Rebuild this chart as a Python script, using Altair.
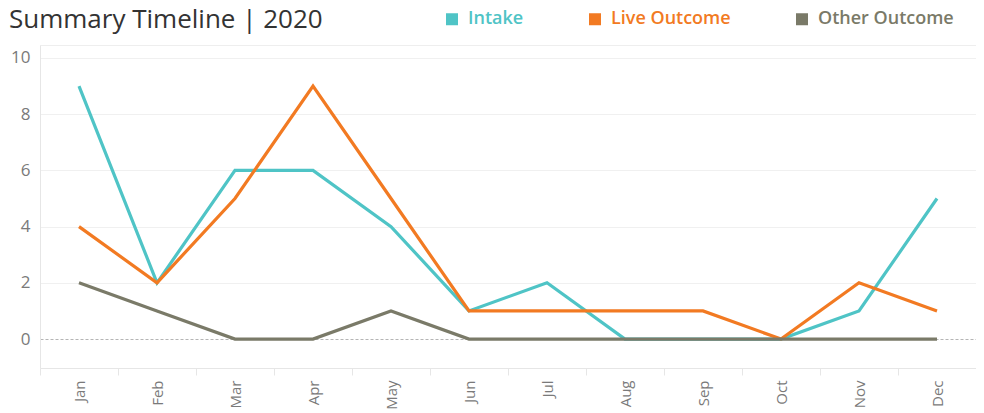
import altair as alt
import pandas as pd

months = ["Jan", "Feb", "Mar", "Apr", "May", "Jun", "Jul", "Aug", "Sep", "Oct", "Nov", "Dec"]
intake = [9, 2, 6, 6, 4, 1, 2, 0, 0, 0, 1, 5]
live_outcome = [4, 2, 5, 9, 5, 1, 1, 1, 1, 0, 2, 1]
other_outcome = [2, 1, 0, 0, 1, 0, 0, 0, 0, 0, 0, 0]

series = ["Intake", "Live Outcome", "Other Outcome"]
colors = ["#4fc4c6", "#f27a22", "#7a7a68"]

rows = []
for name, vals in zip(series, [intake, live_outcome, other_outcome]):
    for m, v in zip(months, vals):
        rows.append({"Month": m, "Series": name, "Value": v, "order": series.index(name)})
df = pd.DataFrame(rows)

label_color_expr = "scale('color', datum.value)"

chart = alt.Chart(df).mark_line(strokeWidth=3.2).encode(
    x=alt.X("Month:N", sort=months, title=None,
            scale=alt.Scale(paddingInner=0, paddingOuter=0),
            axis=alt.Axis(labelAngle=270, labelFontSize=15, labelColor="#7a7a7a",
                          labelFont="Open Sans", labelPadding=5,
                          tickBand="extent", ticks=True, tickSize=7, tickColor="#e6e6e6",
                          domainColor="#e6e6e6", grid=False, labelBaseline="middle",
                          labelAlign="right")),
    y=alt.Y("Value:Q", title=None,
            scale=alt.Scale(domain=[-1.03, 10.46], nice=False, zero=False),
            axis=alt.Axis(values=[0, 2, 4, 6, 8, 10], labelFontSize=17, labelColor="#7a7a7a",
                          labelFont="Open Sans", ticks=False, labelPadding=10,
                          domainColor="#e6e6e6",
                          gridColor=alt.condition("datum.value == 0", alt.value("#b5b5b5"), alt.value("#f0f0f0")),
                          gridDash=alt.condition("datum.value == 0", alt.value([3, 2]), alt.value([])))),
    color=alt.Color("Series:N", sort=series,
                    scale=alt.Scale(domain=series, range=colors),
                    legend=alt.Legend(orient="none", direction="horizontal", title=None,
                                      legendX=403, legendY=-35,
                                      symbolType="square", symbolSize=1, symbolStrokeWidth=11,
                                      labelFont="Open Sans", labelFontSize=18, labelFontWeight=600,
                                      labelColor={"expr": label_color_expr},
                                      labelOffset=7, columnPadding=48, labelLimit=300)),
    order=alt.Order("order:Q", sort="descending"),
).properties(
    width=936,
    height=323,
    padding={"left": 32, "top": 37, "right": 0, "bottom": 45},
    autosize=alt.AutoSizeParams(type="none"),
    title=alt.TitleParams("Summary Timeline | 2020", anchor="start", font="Open Sans",
                          fontSize=26, fontWeight="normal", color="#333333",
                          orient="none", baseline="alphabetic", dx=-31, dy=-17),
).configure_view(stroke="#eeeeee")

chart.save("out.html", embed_options={"renderer": "svg", "actions": False})
